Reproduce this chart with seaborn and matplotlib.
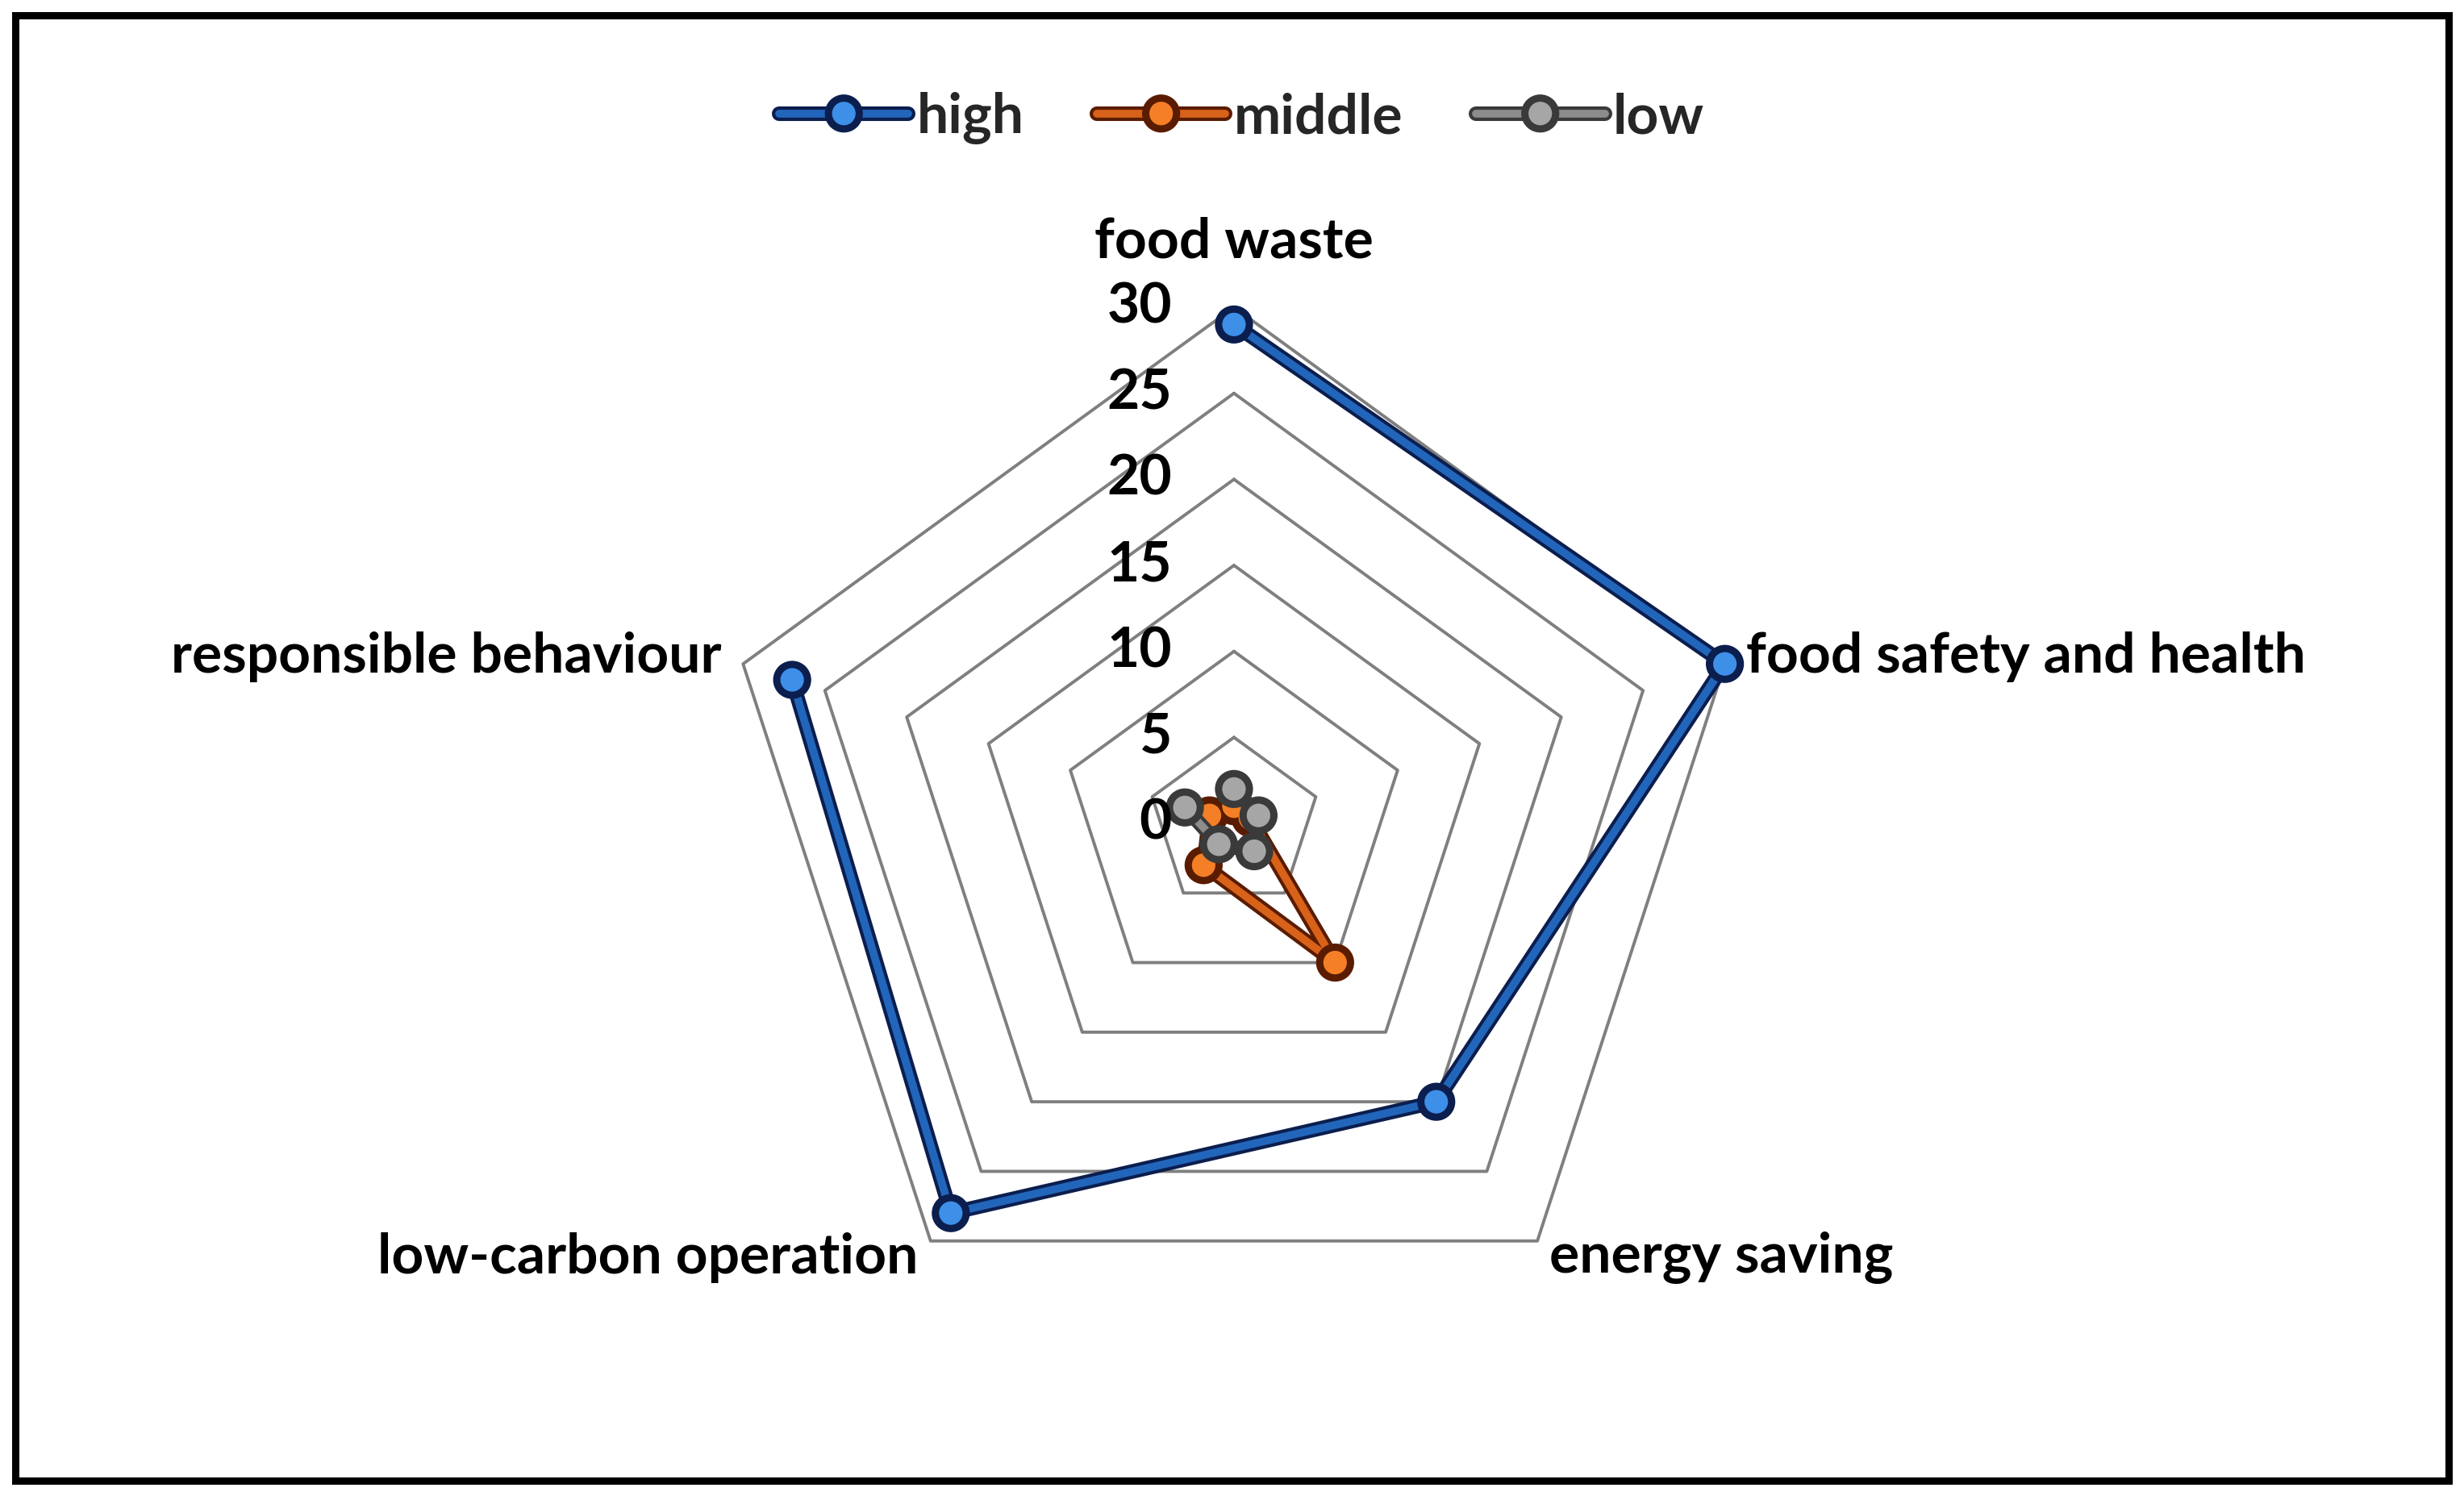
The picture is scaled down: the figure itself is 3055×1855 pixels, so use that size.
import numpy as np
import matplotlib
matplotlib.use("Agg")
import matplotlib.pyplot as plt
import matplotlib.patheffects as pe
from matplotlib.patches import Rectangle
from matplotlib.transforms import offset_copy
import seaborn as sns

# --- DATA ---
categories = ["food waste", "food safety and health", "energy saving",
              "low-carbon operation", "responsible behaviour"]
high = [29, 30, 20, 28, 27]
middle = [1, 1, 10, 3, 1.5]
low = [2, 1.5, 2, 1.5, 3]
ring_ticks = [0, 5, 10, 15, 20, 25, 30]

series = [
    ("high", high, "#2266BB", "#3D8FE8", "#0B1E4E"),
    ("middle", middle, "#D8621A", "#F47F26", "#5A1C00"),
    ("low", low, "#8C8C8C", "#A6A6A6", "#3A3A3A"),
]

sns.set_theme(style="white")
plt.rcParams['font.family'] = ['Lato', 'DejaVu Sans']
plt.rcParams['font.weight'] = 'bold'
FS = 50

fig = plt.figure(figsize=(30.55, 18.55), dpi=100)
ax = fig.add_axes([0.2913, 0.1046, 0.419, 0.690], projection='polar')
ax.set_theta_zero_location('N')
ax.set_theta_direction(-1)
ax.set_ylim(0, 30)
ax.grid(False)
ax.set_xticks([])
ax.set_yticks([])
ax.spines['polar'].set_visible(False)

n = len(categories)
angles = np.linspace(0, 2 * np.pi, n, endpoint=False)
closed = np.append(angles, angles[0])

# pentagon rings
for r in ring_ticks[1:]:
    ax.plot(closed, [r] * (n + 1), color="#7F7F7F", lw=2.8, clip_on=False, zorder=1)

# series
for name, vals, lc, mc, ec in series:
    sns.lineplot(x=closed, y=list(vals) + [vals[0]], ax=ax, sort=False,
                 color=lc, lw=7, marker='o', markersize=21,
                 markerfacecolor=mc, markeredgewidth=0, label=name,
                 clip_on=False, zorder=3,
                 path_effects=[pe.Stroke(linewidth=13, foreground=ec), pe.Normal()])

# ring labels along the top axis
tick_tr = offset_copy(ax.transData, fig=fig, x=-77, y=0, units='dots')
for r in ring_ticks:
    ax.text(0, r, str(r), transform=tick_tr, ha='right', va='center',
            fontsize=FS, color='black')

# category labels
label_pos = [
    (33.8, 'center', 'center'),
    (31.3, 'left', 'center'),
    (31.2, 'left', 'center'),
    (31.2, 'right', 'center'),
    (31.3, 'right', 'center'),
]
for ang, cat, (r, ha, va) in zip(angles, categories, label_pos):
    ax.text(ang, r, cat, ha=ha, va=va, fontsize=FS, color='black')

handles, labels = ax.get_legend_handles_labels()
ax.get_legend().remove()
fig.legend(handles, labels, loc='center', bbox_to_anchor=(0.504, 0.921), ncol=3,
           frameon=False, fontsize=FS, handlelength=2.3, handletextpad=0.15,
           columnspacing=1.3)

# outer frame
fig.add_artist(Rectangle((18.5 / 3055, 19 / 1855), 3017.5 / 3055, 1817.5 / 1855,
                         transform=fig.transFigure, fill=False,
                         edgecolor='black', linewidth=6.5))

fig.savefig("out.png", dpi=100)
